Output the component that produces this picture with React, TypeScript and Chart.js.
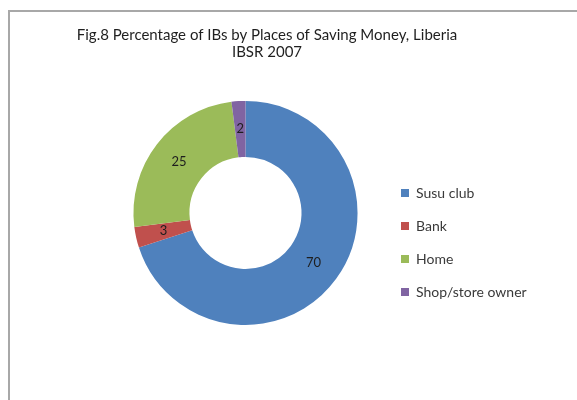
import React, { useEffect, useRef } from "react";
import { Chart, registerables, layouts } from "chart.js";

Chart.register(...registerables);

const categories = ["Susu club", "Bank", "Home", "Shop/store owner"];
const values = [70, 3, 25, 2];
const colors = ["#4F81BD", "#C0504D", "#9BBB59", "#8064A2"];
const titleLines = ["Fig.8 Percentage of IBs by Places of Saving Money, Liberia", "IBSR 2007"];

const FONT = "Lato, 'Open Sans', sans-serif";

const labelPlugin = {
  id: "sliceLabels",
  afterDatasetsDraw(chart: any) {
    const ctx = chart.ctx;
    const meta = chart.getDatasetMeta(0);
    ctx.save();
    ctx.font = `13px ${FONT}`;
    ctx.fillStyle = "#1e1e1e";
    ctx.textAlign = "center";
    ctx.textBaseline = "middle";
    meta.data.forEach((arc: any, i: number) => {
      const p = arc.tooltipPosition();
      ctx.fillText(String(values[i]), p.x, p.y);
    });
    ctx.restore();
  },
};

// empty box on the left of the plot area, so the ring sits left of centre
const spacerPlugin = {
  id: "leftSpacer",
  beforeInit(chart: any) {
    const box: any = {
      position: "left",
      weight: 100,
      fullSize: false,
      options: { stackWeight: 1 },
      width: 0,
      height: 0,
      left: 0,
      top: 0,
      right: 0,
      bottom: 0,
      isHorizontal() {
        return false;
      },
      update(_maxWidth: number, maxHeight: number) {
        this.width = 109;
        this.height = maxHeight;
      },
      draw() {},
    };
    layouts.addBox(chart, box);
  },
};

export default function App() {
  const ref = useRef<HTMLCanvasElement>(null);
  useEffect(() => {
    if (!ref.current) return;
    const chart = new Chart(ref.current, {
      type: "doughnut",
      data: {
        labels: categories,
        datasets: [
          {
            data: values,
            backgroundColor: colors,
            borderWidth: 0,
          },
        ],
      },
      options: {
        responsive: false,
        animation: false,
        cutout: "50%",
        layout: { padding: { left: 0, right: 43, top: 0, bottom: 75 } },
        plugins: {
          tooltip: { enabled: false },
          title: {
            display: true,
            text: titleLines,
            color: "#1f1f1f",
            font: { family: FONT, size: 15, weight: "normal", lineHeight: 1.13 },
            padding: { top: 26.5, bottom: 40.5 },
          },
          legend: {
            display: true,
            position: "right",
            align: "start",
            maxWidth: 152,
            title: {
              display: true,
              text: "",
              font: { size: 10, lineHeight: 1.2 },
              padding: { top: 0, bottom: 155 },
            },
            labels: {
              boxWidth: 8,
              boxHeight: 8,
              padding: 19,
              color: "#3a3a3a",
              font: { family: FONT, size: 14 },
            },
          },
        },
      },
      plugins: [labelPlugin, spacerPlugin],
    });
    return () => chart.destroy();
  }, []);
  return (
    <>
      <canvas ref={ref} width={577} height={400} style={{ position: "fixed", left: 0, top: 0 }} />
      <div style={{ position: "fixed", left: 8, top: 10, width: 569, height: 2, background: "#a8a8a8" }} />
      <div style={{ position: "fixed", left: 8, top: 10, width: 2, height: 390, background: "#a8a8a8" }} />
    </>
  );
}
